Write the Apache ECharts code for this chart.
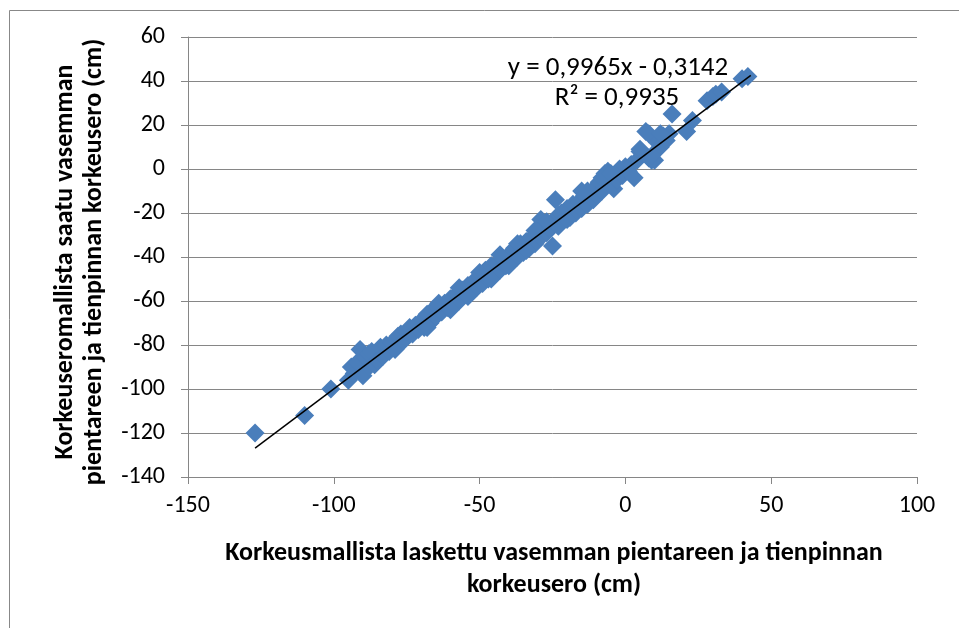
<!DOCTYPE html>
<html><head><meta charset="utf-8">
<script src="https://cdn.jsdelivr.net/npm/echarts@6/dist/echarts.min.js"></script>
<style>html,body{margin:0;padding:0;background:#fff}#c{width:959px;height:628px}</style>
</head><body><div id="c"></div>
<script>
// Scatter data: x = computed height difference (cm), y = height difference from model (cm)
const xValues = [-127,-110,-101,-95,-94,-93,-92,-91,-90,-89,-88,-88,-87,-86,-85,-84,-83,-82,-81,-80,-79,-78,-77,-76,-75,-74,-73,-72,-71,-70,-69,-68,-67,-66,-65,-64,-63,-62,-61,-60,-59,-58,-57,-56,-55,-54,-53,-52,-51,-50,-49,-48,-47,-46,-45,-44,-43,-42,-41,-40,-39,-38,-37,-36,-35,-34,-33,-32,-31,-30,-29,-29,-28,-27,-26,-25,-25,-24,-23,-23,-22,-21,-20,-19,-18,-17,-16,-15,-15,-14,-13,-12,-11,-10,-10,-9,-8,-7,-7,-6,-5,-4,-3,-2,-1,0,1,2,3,4,5,6,7,8,8,9,10,11,12,13,14,15,16,21,23,28,30,31,33,40,42,
  -68,-64,-60,-57,-54,-50,-46,-43,-40,-37,-34,-31,-27,-20,-13,-8,-5,5,9,12];
const yValues = [-120,-112,-100,-96,-90,-93,-88,-82,-94,-86,-90,-84,-83,-89,-87,-81,-85,-80,-83,-79,-82,-76,-75,-78,-74,-72,-75,-71,-73,-69,-72,-66,-70,-64,-67,-63,-65,-61,-63,-59,-62,-57,-60,-55,-57,-53,-56,-51,-54,-49,-52,-46,-50,-44,-48,-43,-46,-41,-44,-39,-42,-36,-40,-34,-38,-33,-36,-31,-34,-28,-31,-23,-26,-29,-27,-35,-24,-14,-26,-21,-20,-23,-18,-22,-16,-20,-15,-10,-18,-12,-16,-11,-14,-8,-12,-6,-10,-2,-8,-1,-6,-9,-5,0,-3,1,-1,2,-4,4,8,7,17,16,5,4,4,12,10,15,13,16,25,17,22,31,33,34,35,41,42,
  -72,-61,-64,-54,-58,-47,-50,-39,-44,-34,-37,-28,-24,-23,-10,-4,-2,9,6,16];
const xTicks = [-150,-100,-50,0,50,100];
const yTicks = [-140,-120,-100,-80,-60,-40,-20,0,20,40,60];
const trendSlope = 0.9965;
const trendIntercept = -0.3142;
const xTitle = 'Korkeusmallista laskettu vasemman pientareen ja tienpinnan\nkorkeusero (cm)';
const yTitle = 'Korkeuseromallista saatu vasemman\npientareen ja tienpinnan korkeusero (cm)';
const eqText = 'y = 0,9965x - 0,3142';
const r2Text = 'R² = 0,9935';

const FONT = 'Carlito, "Liberation Sans", sans-serif';
const points = xValues.map((x, i) => [x, yValues[i]]);
const xMinD = Math.min(...xValues), xMaxD = Math.max(...xValues);
const trend = [[xMinD, trendSlope * xMinD + trendIntercept], [xMaxD + 1, trendSlope * (xMaxD + 1) + trendIntercept]];

const chart = echarts.init(document.getElementById('c'), null, {renderer: 'canvas'});
chart.setOption({
  animation: false,
  backgroundColor: '#fff',
  grid: {left: 188, right: 42, top: 37, bottom: 151, containLabel: false},
  xAxis: {
    type: 'value', min: xTicks[0], max: xTicks[xTicks.length - 1], interval: 50,
    axisLine: {show: true, onZero: false, lineStyle: {color: '#868686', width: 1}},
    axisTick: {show: true, length: 7, lineStyle: {color: '#868686'}},
    splitLine: {show: false},
    axisLabel: {color: '#000', fontSize: 24, fontFamily: FONT, margin: 17}
  },
  yAxis: {
    type: 'value', min: yTicks[0], max: yTicks[yTicks.length - 1], interval: 20,
    axisLine: {show: true, onZero: false, lineStyle: {color: '#868686', width: 1}},
    axisTick: {show: true, length: 7, lineStyle: {color: '#868686'}},
    splitLine: {show: true, lineStyle: {color: '#868686', width: 1}},
    axisLabel: {color: '#000', fontSize: 24, fontFamily: FONT, margin: 23}
  },
  series: [
    {type: 'scatter', data: points, symbol: 'diamond', symbolSize: 19,
     itemStyle: {color: '#4A7EBB', opacity: 1}, z: 2},
    {type: 'line', data: trend, symbol: 'none', silent: true,
     lineStyle: {color: '#000', width: 1.5}, z: 3}
  ],
  graphic: [
    {type: 'rect', left: 7, top: 8, z: -1, silent: true,
     shape: {x: 0, y: 0, width: 980, height: 650},
     style: {fill: 'none', stroke: '#888', lineWidth: 1}},
    {type: 'text', x: 554, y: 569, z: 10,
     style: {text: xTitle, fill: '#000', font: 'bold 26px ' + FONT, textAlign: 'center', textVerticalAlign: 'middle', lineHeight: 32}},
    {type: 'text', x: 80, y: 262, rotation: Math.PI / 2, z: 10,
     style: {text: yTitle, fill: '#000', font: 'bold 26px ' + FONT, textAlign: 'center', textVerticalAlign: 'middle', lineHeight: 29}},
    {type: 'text', x: 618, y: 68, z: 10,
     style: {text: eqText, fill: '#000', font: '27px ' + FONT, textAlign: 'center', textVerticalAlign: 'middle'}},
    {type: 'text', x: 617, y: 98, z: 10,
     style: {text: r2Text, fill: '#000', font: '27px ' + FONT, textAlign: 'center', textVerticalAlign: 'middle'}}
  ]
});
</script></body></html>
